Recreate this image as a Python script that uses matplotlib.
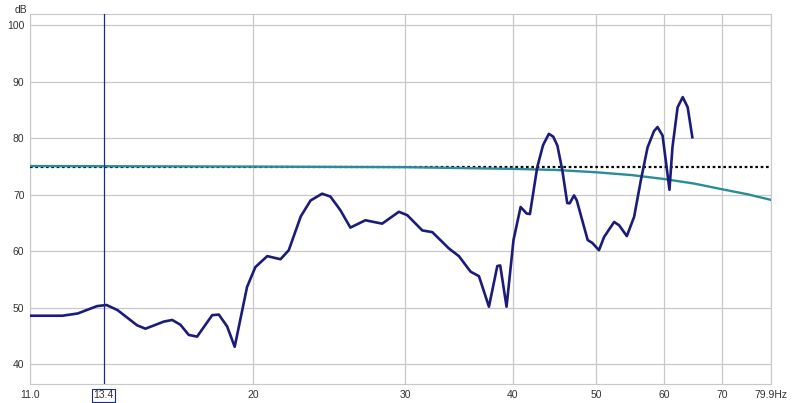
import matplotlib
matplotlib.use("Agg")
import matplotlib.pyplot as plt

# measured response (Hz, dB)
freq = [11.0, 12.0, 12.5, 13.16, 13.5, 13.9, 14.65, 14.98, 15.73, 16.09, 16.45, 16.82, 17.2,
        17.91, 18.23, 18.64, 19.02, 19.66, 20.1, 20.75, 21.5, 21.98, 22.7, 23.3, 24.03, 24.57,
        25.23, 25.92, 26.98, 28.22, 29.51, 30.18, 31.42, 32.27, 33.74, 34.65, 35.75, 36.56,
        37.55, 38.4, 38.7, 39.36, 40.1, 40.87, 41.53, 41.9, 42.73, 43.4, 44.08, 44.6, 45.1,
        45.7, 46.3, 46.6, 47.15, 47.5, 48.9, 49.5, 50.4, 51.1, 52.49, 53.2, 54.3, 55.37,
        56.38, 57.4, 58.4, 58.95, 59.75, 60.4, 60.86, 61.35, 62.2, 63.06, 63.9, 64.7]
spl = [48.6, 48.6, 49.0, 50.3, 50.5, 49.6, 46.9, 46.3, 47.55, 47.85, 47.0, 45.2, 44.9,
       48.7, 48.8, 46.7, 43.1, 53.7, 57.2, 59.15, 58.6, 60.2, 66.2, 69.0, 70.2, 69.7,
       67.3, 64.2, 65.5, 64.9, 67.0, 66.4, 63.7, 63.4, 60.5, 59.15, 56.4, 55.6,
       50.2, 57.4, 57.5, 50.2, 62.0, 67.85, 66.7, 66.6, 74.9, 78.8, 80.8, 80.3, 78.7,
       74.3, 68.55, 68.5, 69.9, 69.0, 62.0, 61.5, 60.2, 62.55, 65.2, 64.6, 62.7, 66.1,
       72.6, 78.4, 81.3, 82.0, 80.5, 74.9, 70.9, 78.4, 85.5, 87.3, 85.5, 80.2]

# target curve
tgt_freq = [11.0, 20.0, 30.0, 40.0, 45.0, 50.0, 55.0, 60.0, 65.0, 70.0, 75.0, 79.9]
tgt_db = [75.1, 75.0, 74.9, 74.6, 74.4, 74.0, 73.5, 72.8, 72.0, 71.0, 70.1, 69.1]

ref_level = 75.0
cursor = 13.4

xticks = [11.0, 20, 30, 40, 50, 60, 70, 79.9]
xlabels = ["11.0", "20", "30", "40", "50", "60", "70", "79.9Hz"]
yticks = [40, 50, 60, 70, 80, 90, 100]

plt.rcParams['font.family'] = ['Liberation Sans', 'DejaVu Sans']

fig = plt.figure(figsize=(8.0, 4.03), dpi=100)
ax = fig.add_axes([0.0375, 0.047, 0.9265, 0.918])
ax.set_xscale('log')
ax.set_xlim(11.0, 79.9)
ax.set_ylim(36.5, 102)

ax.set_xticks(xticks)
ax.set_xticklabels(xlabels)
ax.minorticks_off()
ax.set_yticks(yticks)
ax.tick_params(length=0, labelsize=7.5, colors='#333333', pad=4)
ax.grid(True, color='#c8c8c8', linewidth=0.9)
ax.set_axisbelow(True)
for s in ax.spines.values():
    s.set_color('#c8c8c8')

ax.plot([11.0, 79.9], [ref_level, ref_level], color='black', linestyle=(0, (1.2, 1.2)),
        linewidth=1.6, zorder=3)
ax.plot(tgt_freq, tgt_db, color='#2a8c98', linewidth=1.7, zorder=4)
ax.plot(freq, spl, color='#1c1c78', linewidth=1.9, solid_joinstyle='round', zorder=5)

# cursor
ax.axvline(cursor, color='#1e2a80', linewidth=0.9, zorder=6)
ax.text(cursor, -0.03, "13.4", transform=ax.get_xaxis_transform(), ha='center', va='center',
        fontsize=7.5, color='#333333',
        bbox=dict(boxstyle='square,pad=0.15', facecolor='white', edgecolor='#1e2a80', linewidth=0.8))

fig.text(0.026, 0.988, "dB", fontsize=7.5, color='#333333', ha='center', va='top')

fig.savefig("out.png", dpi=100)
